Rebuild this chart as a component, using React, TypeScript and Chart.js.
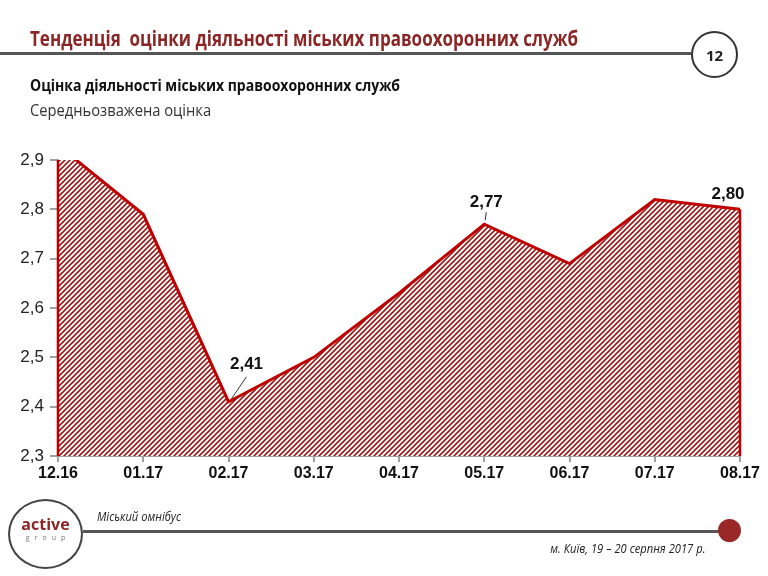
import Chart from 'chart.js/auto';
import { FC, useEffect, useRef } from 'react';

const months: string[] = ['12.16', '01.17', '02.17', '03.17', '04.17', '05.17', '06.17', '07.17', '08.17'];
const scores: number[] = [2.93, 2.79, 2.41, 2.5, 2.63, 2.77, 2.69, 2.82, 2.8];
const labelled: number[] = [2, 5, 8];
const yTicks: number[] = [2.3, 2.4, 2.5, 2.6, 2.7, 2.8, 2.9];

const LINE_RED = '#c00000';
const HATCH_RED = '#9a1a1a';

// hatch tile, "/" direction
const makeHatch = (): CanvasPattern | string => {
	const tile = document.createElement('canvas');
	const s = 5;
	tile.width = s;
	tile.height = s;
	const c = tile.getContext('2d');
	if (!c) return HATCH_RED;
	c.fillStyle = '#ffffff';
	c.fillRect(0, 0, s, s);
	c.strokeStyle = HATCH_RED;
	c.lineWidth = 1.6;
	c.beginPath();
	c.moveTo(0, s);
	c.lineTo(s, 0);
	c.moveTo(-1, 1);
	c.lineTo(1, -1);
	c.moveTo(s - 1, s + 1);
	c.lineTo(s + 1, s - 1);
	c.stroke();
	return c.createPattern(tile, 'repeat') || HATCH_RED;
};

const fmt = (v: number, d: number) => v.toFixed(d).replace('.', ',');

// vertical edges of the area + value labels
const extras = {
	id: 'extras',
	afterDatasetsDraw(chart: any) {
		const { ctx, chartArea, scales } = chart;
		const x = scales.x;
		const y = scales.y;
		const bottom = y.getPixelForValue(2.3);
		ctx.save();
		ctx.strokeStyle = LINE_RED;
		ctx.lineWidth = 2.5;
		const edges = [0, scores.length - 1];
		edges.forEach((i) => {
			const px = x.getPixelForValue(i);
			const py = Math.max(y.getPixelForValue(scores[i]), chartArea.top);
			ctx.beginPath();
			ctx.moveTo(px, py);
			ctx.lineTo(px, bottom);
			ctx.stroke();
		});

		const offsets: Record<number, [number, number, boolean]> = {
			2: [18, -37, true],
			5: [2, -22, true],
			8: [-12, -15, false],
		};
		ctx.font = 'bold 17px Arial, "Liberation Sans", sans-serif';
		ctx.fillStyle = '#111';
		ctx.textAlign = 'center';
		ctx.textBaseline = 'middle';
		labelled.forEach((i) => {
			const px = x.getPixelForValue(i);
			const py = y.getPixelForValue(scores[i]);
			const [dx, dy, leader] = offsets[i];
			ctx.fillText(fmt(scores[i], 2), px + dx, py + dy);
			if (leader) {
				ctx.strokeStyle = '#333';
				ctx.lineWidth = 1;
				ctx.beginPath();
				if (i === 2) {
					ctx.moveTo(px + dx, py + dy + 12);
					ctx.lineTo(px + 3, py - 3);
				} else {
					ctx.moveTo(px + dx, py + dy + 10);
					ctx.lineTo(px + 1, py - 4);
				}
				ctx.stroke();
			}
		});
		ctx.restore();
	},
};

const TrendChart: FC = () => {
	const canvasRef = useRef<HTMLCanvasElement | null>(null);

	useEffect(() => {
		const canvas = canvasRef.current;
		if (!canvas) return;
		const chart = new Chart(canvas, {
			type: 'line',
			data: {
				labels: months,
				datasets: [
					{
						data: scores,
						borderColor: LINE_RED,
						borderWidth: 3,
						backgroundColor: makeHatch(),
						fill: 'start',
						pointRadius: 0,
						tension: 0,
						clip: 0,
					},
				],
			},
			options: {
				animation: false,
				responsive: false,
				events: [],
				layout: { padding: { top: 160, left: 0, right: 28, bottom: 90 } },
				plugins: { legend: { display: false }, tooltip: { enabled: false } },
				scales: {
					x: {
						offset: false,
						grid: { drawOnChartArea: false, drawTicks: true, tickLength: 6, color: '#a0a0a0', lineWidth: 2 },
						border: { display: true, color: '#a0a0a0', width: 2 },
						ticks: {
							padding: 2,
							color: '#111',
							font: { family: 'Arial, "Liberation Sans", sans-serif', size: 16, weight: 'bold' },
							maxRotation: 0,
							autoSkip: false,
						},
						afterFit: (s: any) => {
							s.height = 30;
							s.paddingLeft = 0;
							s.paddingRight = 0;
						},
					},
					y: {
						min: 2.3,
						max: 2.9,
						afterBuildTicks: (s: any) => {
							s.ticks = yTicks.map((v) => ({ value: v }));
						},
						grid: { drawOnChartArea: false, drawTicks: true, tickLength: 8, color: '#a0a0a0', lineWidth: 2 },
						border: { display: true, color: '#a0a0a0', width: 2 },
						ticks: {
							padding: 6,
							color: '#222',
							font: { family: 'Arial, "Liberation Sans", sans-serif', size: 17 },
							callback: (v: any) => fmt(Number(v), 1),
						},
						afterFit: (s: any) => {
							s.width = 58;
						},
					},
				},
			},
			plugins: [extras],
		});
		return () => chart.destroy();
	}, []);

	return (
		<canvas
			ref={canvasRef}
			width={768}
			height={576}
			style={{ position: 'absolute', left: 0, top: 0, width: 768, height: 576 }}
		/>
	);
};

const abs = (o: React.CSSProperties): React.CSSProperties => ({ position: 'absolute', ...o });

const App: FC = () => {
	return (
		<div style={abs({ left: 0, top: 0, width: 768, height: 576, background: '#fff', overflow: 'hidden', fontFamily: '"Open Sans", sans-serif' })}>
			<TrendChart />
			<div
				style={abs({
					left: 30,
					top: 24,
					fontSize: 21,
					fontWeight: 700,
					color: '#8a2626',
					whiteSpace: 'pre',
					transform: 'scaleX(0.81)',
					transformOrigin: 'left top',
				})}
			>
				Тенденція  оцінки діяльності міських правоохоронних служб
			</div>
			<div style={abs({ left: 0, top: 52, width: 691, height: 3, background: '#555' })} />
			<div
				style={abs({
					left: 691,
					top: 31,
					width: 47,
					height: 47,
					boxSizing: 'border-box',
					border: '2px solid #333',
					borderRadius: '50%',
					display: 'flex',
					alignItems: 'center',
					justifyContent: 'center',
					fontWeight: 700,
					fontSize: 15,
					color: '#222',
				})}
			>
				12
			</div>
			<div
				style={abs({
					left: 30,
					top: 74,
					fontSize: 16,
					fontWeight: 700,
					color: '#111',
					whiteSpace: 'pre',
					transform: 'scaleX(0.875)',
					transformOrigin: 'left top',
				})}
			>
				Оцінка діяльності міських правоохоронних служб
			</div>
			<div
				style={abs({
					left: 30,
					top: 99,
					fontSize: 16,
					color: '#333',
					whiteSpace: 'pre',
					transform: 'scaleX(0.92)',
					transformOrigin: 'left top',
				})}
			>
				Середньозважена оцінка
			</div>

			{/* footer */}
			<div
				style={abs({
					left: 8,
					top: 499,
					width: 75,
					height: 70,
					boxSizing: 'border-box',
					border: '2px solid #444',
					borderRadius: '50%',
				})}
			/>
			<div style={abs({ left: 8, top: 515, width: 75, textAlign: 'center', fontWeight: 700, fontSize: 16, color: '#8a2626', lineHeight: '18px' })}>
				active
			</div>
			<div style={abs({ left: 8, top: 533, width: 75, textAlign: 'center', fontSize: 7, color: '#777', letterSpacing: 5, lineHeight: '10px', paddingLeft: 5, boxSizing: 'border-box' })}>
				group
			</div>
			<div style={abs({ left: 83, top: 530, width: 640, height: 3, background: '#555' })} />
			<div style={abs({ left: 718, top: 519, width: 23, height: 23, borderRadius: '50%', background: '#9a2828' })} />
			<div
				style={abs({
					left: 97,
					top: 507,
					fontSize: 13,
					fontStyle: 'italic',
					color: '#222',
					whiteSpace: 'pre',
					transform: 'scaleX(0.86)',
					transformOrigin: 'left top',
				})}
			>
				Міський омнібус
			</div>
			<div
				style={abs({
					right: 768 - 705,
					top: 539,
					fontSize: 13,
					fontStyle: 'italic',
					color: '#222',
					whiteSpace: 'pre',
					transform: 'scaleX(0.86)',
					transformOrigin: 'right top',
				})}
			>
				м. Київ, 19 – 20 серпня 2017 р.
			</div>
		</div>
	);
};

export default App;
